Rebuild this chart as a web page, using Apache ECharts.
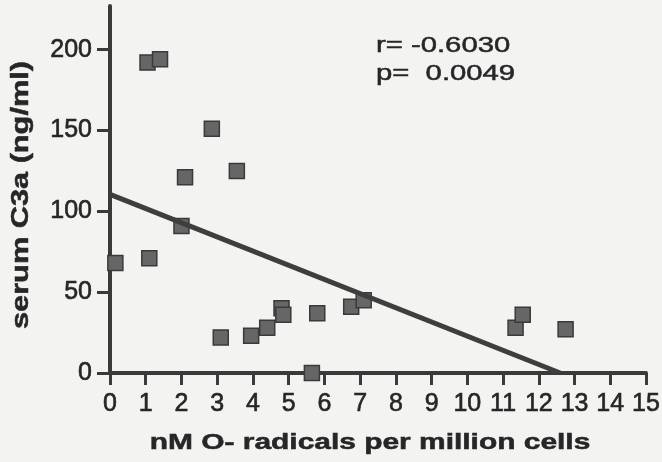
<!DOCTYPE html>
<html>
<head>
<meta charset="utf-8">
<script src="https://cdn.jsdelivr.net/npm/echarts@6/dist/echarts.min.js"></script>
<style>
  html, body { margin: 0; padding: 0; background: #f3f3f2; }
  #chart { width: 662px; height: 462px; }
</style>
</head>
<body>
<div id="chart"></div>
<script>
// Superoxide radical production vs serum C3a, one point per subject
const radicals = [0.15, 1.1, 1.05, 1.4, 2.85, 2.1, 3.55, 2.0, 3.1, 3.95,
                  4.4, 4.8, 4.85, 5.8, 5.65, 6.75, 7.1, 11.35, 11.55, 12.75];
const c3a      = [68, 71, 192, 194, 151, 121, 125, 91, 22, 23,
                  28, 40, 36, 37, 0, 41, 45, 28, 36, 27];

// Linear regression line, end points
const fitX = [0, 12.6];
const fitY = [110.5, 0];

// Axis ticks and text
const xTicks = [0, 1, 2, 3, 4, 5, 6, 7, 8, 9, 10, 11, 12, 13, 14, 15];
const yTicks = [0, 50, 100, 150, 200];
const xTitle = 'nM O- radicals per million cells';
const yTitle = 'serum C3a (ng/ml)';
const statLines = ['r= -0.6030', 'p=  0.0049'];

const ink = '#262626';
const axisInk = '#3a3a3a';
const labelFont = 'Liberation Sans, Arial, sans-serif';

const chart = echarts.init(document.getElementById('chart'), null, { renderer: 'canvas' });

const points = radicals.map((x, i) => [x, c3a[i]]);
const fitLine = fitX.map((x, i) => [x, fitY[i]]);

// Tick label style, slightly heavier than plain regular weight
const tickLabel = (margin) => ({
  margin: margin,
  fontFamily: labelFont,
  fontSize: 25,
  color: ink,
  textBorderColor: ink,
  textBorderWidth: 0.6
});

const overlayText = (x, y, text, font, extra) => Object.assign({
  type: 'text',
  x: x, y: y,
  style: {
    text: text,
    font: font,
    fill: ink,
    stroke: ink,
    lineWidth: 0.5,
    align: 'center',
    verticalAlign: 'middle'
  }
}, extra);

chart.setOption({
  backgroundColor: '#f3f3f2',
  animation: false,
  grid: { left: 110, right: 16, top: 6, bottom: 89, containLabel: false, outerBoundsMode: 'none' },
  xAxis: {
    type: 'value',
    min: xTicks[0],
    max: xTicks[xTicks.length - 1],
    interval: 1,
    splitLine: { show: false },
    axisLine: { show: true, onZero: false, lineStyle: { color: axisInk, width: 4 } },
    axisTick: { show: true, length: 12, inside: false, lineStyle: { color: axisInk, width: 3 } },
    axisLabel: tickLabel(19)
  },
  yAxis: {
    type: 'value',
    min: 0,
    max: 227,
    interval: 50,
    splitLine: { show: false },
    axisLine: { show: true, onZero: false, lineStyle: { color: axisInk, width: 4 } },
    axisTick: { show: true, length: 13, customValues: yTicks, lineStyle: { color: axisInk, width: 3 } },
    axisLabel: Object.assign(tickLabel(18), { customValues: yTicks })
  },
  series: [
    {
      type: 'scatter',
      data: points,
      symbol: 'rect',
      symbolSize: 15,
      itemStyle: { color: '#666666', borderColor: '#3a3a3a', borderWidth: 1.5, opacity: 1 },
      z: 3
    },
    {
      type: 'line',
      data: fitLine,
      symbol: 'none',
      lineStyle: { color: '#3e3e3e', width: 5 },
      z: 4
    }
  ],
  graphic: [
    overlayText(370, 443, xTitle, 'bold 22px "Liberation Sans", Arial, sans-serif', { scaleX: 1.36 }),
    overlayText(21, 195, yTitle, 'bold 24px "Liberation Sans", Arial, sans-serif',
      { rotation: Math.PI / 2, scaleX: 1.28 }),
    (() => {
      const t = overlayText(376, 46, statLines[0], '22px "Liberation Sans", Arial, sans-serif', { scaleX: 1.33 });
      t.style.align = 'left';
      return t;
    })(),
    (() => {
      const t = overlayText(376, 74, statLines[1], '22px "Liberation Sans", Arial, sans-serif', { scaleX: 1.33 });
      t.style.align = 'left';
      return t;
    })()
  ]
});
</script>
</body>
</html>
